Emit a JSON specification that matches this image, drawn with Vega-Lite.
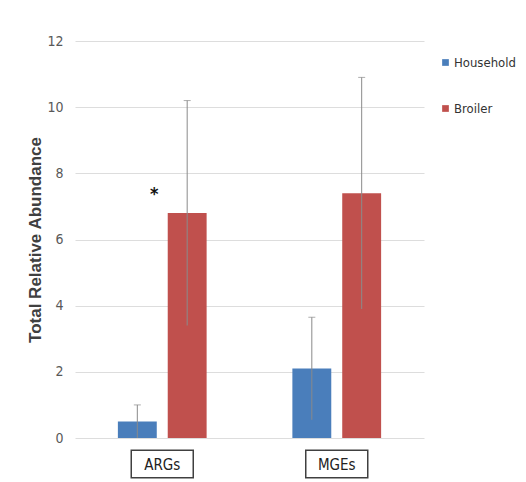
{
  "$schema": "https://vega.github.io/schema/vega-lite/v6.json",
  "width": 349,
  "height": 397,
  "autosize": "none",
  "padding": {"left": 75, "top": 41, "right": 102, "bottom": 44},
  "background": "white",
  "config": {
    "view": {"stroke": null},
    "font": "'Liberation Sans Narrow', 'DejaVu Sans Condensed', sans-serif"
  },
  "datasets": {
    "bars": [
      {"category": "ARGs", "group": "Household", "value": 0.5, "lo": 0.0, "hi": 1.0},
      {"category": "ARGs", "group": "Broiler", "value": 6.8, "lo": 3.4, "hi": 10.2},
      {"category": "MGEs", "group": "Household", "value": 2.1, "lo": 0.55, "hi": 3.65},
      {"category": "MGEs", "group": "Broiler", "value": 7.4, "lo": 3.9, "hi": 10.9}
    ],
    "cats": [{"category": "ARGs"}, {"category": "MGEs"}],
    "sig": [{"category": "ARGs", "group": "Household", "y": 7.35, "label": "*"}]
  },
  "encoding": {
    "x": {
      "field": "category", "type": "nominal", "sort": ["ARGs", "MGEs"],
      "scale": {"paddingInner": 0, "paddingOuter": 0},
      "axis": {"title": null, "labelAngle": 0, "ticks": false, "domain": false, "labelPadding": 19, "labelFontSize": 15, "labelColor": "#222222", "labelFont": "'Liberation Sans Narrow', 'DejaVu Sans Condensed', sans-serif"}
    }
  },
  "layer": [
    {
      "data": {"name": "bars"},
      "mark": {"type": "bar"},
      "encoding": {
        "xOffset": {"field": "group", "type": "nominal", "sort": ["Household", "Broiler"], "scale": {"paddingInner": 0.22, "paddingOuter": 0.86}},
        "y": {
          "field": "value", "type": "quantitative",
          "scale": {"domain": [0, 12]},
          "axis": {"values": [0, 2, 4, 6, 8, 10, 12], "title": "Total Relative Abundance", "titleFont": "'Liberation Sans', Arial, sans-serif", "titleFontSize": 17, "titleFontWeight": "bold", "titleColor": "#404040", "titlePadding": 2, "ticks": false, "domain": false, "labelPadding": 12, "labelFontSize": 14, "labelColor": "#595959", "labelFont": "'Liberation Sans Narrow', 'DejaVu Sans Condensed', sans-serif", "gridColor": "#dddddd"}
        },
        "color": {
          "field": "group", "type": "nominal",
          "scale": {"domain": ["Household", "Broiler"], "range": ["#4A7EBB", "#C0504D"]},
          "legend": {"title": null, "orient": "none", "legendX": 364, "legendY": 15, "symbolType": "square", "symbolSize": 45, "labelFontSize": 13, "labelColor": "#333333", "labelFont": "'Liberation Sans Narrow', 'DejaVu Sans Condensed', sans-serif", "rowPadding": 32, "labelOffset": 2}
        }
      }
    },
    {
      "data": {"name": "bars"},
      "mark": {"type": "rule", "color": "#8a8a8a", "strokeWidth": 1},
      "encoding": {
        "xOffset": {"field": "group", "type": "nominal", "sort": ["Household", "Broiler"]},
        "y": {"field": "lo", "type": "quantitative"},
        "y2": {"field": "hi"}
      }
    },
    {
      "data": {"name": "bars"},
      "mark": {"type": "tick", "color": "#8a8a8a", "orient": "horizontal", "size": 7, "thickness": 1},
      "encoding": {
        "xOffset": {"field": "group", "type": "nominal", "sort": ["Household", "Broiler"]},
        "y": {"field": "hi", "type": "quantitative"}
      }
    },
    {
      "data": {"name": "cats"},
      "mark": {"type": "bar", "width": 62, "fill": null, "fillOpacity": 0, "stroke": "#404040", "strokeWidth": 1.5},
      "encoding": {
        "y": {"datum": -0.37},
        "y2": {"datum": -1.2}
      }
    },
    {
      "data": {"name": "sig"},
      "mark": {"type": "text", "fontSize": 18, "fontWeight": "bold", "color": "#111111", "dx": 17, "baseline": "middle"},
      "encoding": {
        "xOffset": {"field": "group", "type": "nominal", "sort": ["Household", "Broiler"]},
        "y": {"field": "y", "type": "quantitative"},
        "text": {"field": "label"}
      }
    }
  ]
}
